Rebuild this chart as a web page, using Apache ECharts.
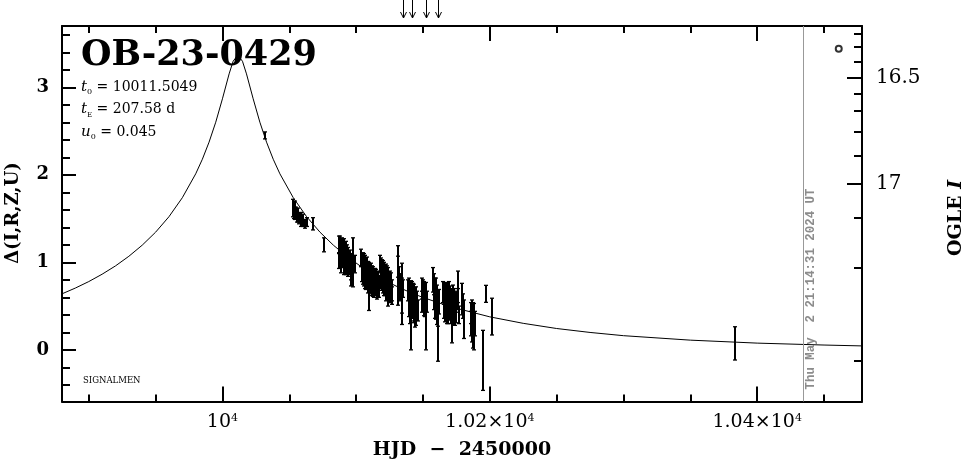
<!DOCTYPE html>
<html><head><meta charset="utf-8">
<script src="https://cdn.jsdelivr.net/npm/echarts@6/dist/echarts.min.js"></script>
<style>html,body{margin:0;padding:0;background:#fff}#c{width:965px;height:459px}</style>
</head><body><div id="c"></div>
<script>
// ---- axis ticks / labels ----
const xMajorTicks = [10000, 10200, 10400];
const xMajorLabels = ['10{s|4}', '1.02×10{s|4}', '1.04×10{s|4}'];
const xMinorTicks = [9900, 9950, 10050, 10100, 10150, 10250, 10300, 10350, 10450];
const yMajorTicks = [0, 1, 2, 3];
const yMajorLabels = ['0', '1', '2', '3'];
const yMinorTicks = [-0.4, -0.2, 0.2, 0.4, 0.6, 0.8, 1.2, 1.4, 1.6, 1.8, 2.2, 2.4, 2.6, 2.8, 3.2, 3.4, 3.6];
// OGLE I magnitude ticks (right axis) and the Delta value at which each sits
const magTickMags  = [16.2, 16.3, 16.4, 16.5, 16.6, 16.7, 16.8, 16.9, 17.0, 17.1, 17.2, 17.3];
const magTickDelta = [3.616, 3.463, 3.291, 3.113, 2.930, 2.728, 2.492, 2.218, 1.898, 1.509, 0.938, -0.125];
const magMajor = [16.5, 17.0];
const magMajorLabels = ['16.5', '17'];

// ---- model curve ----
const curveT = [9880, 9890, 9900, 9910, 9920, 9930, 9940, 9950, 9960, 9970, 9980, 9985, 9990, 9995, 10000, 10005, 10008, 10011.5, 10015, 10018, 10023, 10028, 10033, 10038, 10043, 10053, 10063, 10073, 10083, 10093, 10103, 10113, 10123, 10133, 10143, 10150, 10170, 10200, 10225, 10250, 10275, 10300, 10350, 10400, 10450, 10478.4];
const curveD = [0.640, 0.706, 0.780, 0.864, 0.959, 1.069, 1.196, 1.344, 1.521, 1.738, 2.011, 2.178, 2.373, 2.601, 2.868, 3.153, 3.297, 3.368, 3.297, 3.153, 2.868, 2.601, 2.373, 2.178, 2.011, 1.738, 1.521, 1.344, 1.196, 1.069, 0.959, 0.864, 0.780, 0.706, 0.640, 0.599, 0.495, 0.377, 0.303, 0.244, 0.199, 0.162, 0.111, 0.077, 0.055, 0.045];

// ---- observations (HJD-2450000, Delta, error) ----
const obsT = [
  10032.2, 10195.0, 10196.8, 10201.3, 10383.3,
  10053.1, 10053.6, 10054.1, 10054.6, 10055.4, 10055.9, 10056.9, 10057.4, 10058.4, 10058.9, 10059.9, 10062.1, 10063.6, 10068.1, 10076.3,
  10087.0, 10087.4, 10087.8, 10088.2, 10088.6, 10089.0, 10089.4, 10089.8, 10090.2, 10090.6, 10091.0, 10091.4, 10091.8, 10092.2, 10092.6, 10093.0, 10093.4, 10093.8, 10094.2, 10094.6, 10095.2, 10095.8, 10096.5, 10097.2, 10098.0, 10099.0,
  10104.0, 10104.4, 10104.8, 10105.2, 10105.6, 10106.0, 10106.4, 10106.8, 10107.2, 10107.6, 10108.0, 10108.4, 10108.8, 10109.2, 10109.6, 10110.0, 10110.4, 10110.8, 10111.2, 10111.6, 10112.0, 10112.5, 10113.0, 10113.5, 10114.0, 10114.5, 10115.0, 10115.5, 10116.0, 10116.5, 10117.0,
  10118.0, 10118.4, 10118.8, 10119.2, 10119.6, 10120.0, 10120.4, 10120.8, 10121.2, 10121.6, 10122.0, 10122.5, 10123.0, 10123.5, 10124.0, 10124.5, 10125.0, 10125.5, 10126.0, 10126.5, 10127.0,
  10131.0, 10131.5, 10132.0, 10132.5, 10133.0, 10134.0, 10134.5, 10135.0,
  10139.0, 10139.4, 10139.8, 10140.2, 10140.7, 10141.0, 10141.4, 10141.8, 10142.2, 10142.6, 10143.0, 10143.5, 10144.0, 10144.5, 10145.0, 10145.5, 10146.0,
  10149.0, 10149.5, 10150.0, 10150.5, 10151.0, 10151.5, 10152.0, 10152.5, 10153.0,
  10157.5, 10158.0, 10158.4, 10158.8, 10159.2, 10159.6, 10160.0, 10160.4, 10160.8, 10161.2, 10161.5, 10162.0,
  10165.0, 10165.4, 10165.8, 10166.2, 10166.6, 10167.0, 10167.5, 10168.0, 10168.5, 10169.0, 10169.5, 10170.0, 10170.5, 10171.0, 10171.5, 10172.0, 10172.5, 10173.0, 10173.5, 10174.0, 10174.5, 10175.0, 10176.0, 10176.5, 10177.0,
  10179.0, 10179.8, 10181.0,
  10185.6, 10186.0, 10186.4, 10186.8, 10187.2, 10187.6, 10188.0, 10188.5, 10189.0
];
const obsD = [
  2.45, -0.12, 0.64, 0.38, 0.074,
  1.62, 1.58, 1.64, 1.56, 1.58, 1.52, 1.54, 1.50, 1.52, 1.47, 1.48, 1.44, 1.46, 1.44, 1.20,
  1.20, 1.02, 1.22, 1.05, 1.18, 0.98, 1.20, 1.04, 1.15, 0.96, 1.18, 1.00, 1.12, 0.95, 1.14, 1.00, 1.10, 0.92, 1.08, 0.96, 1.05, 0.90, 0.88, 1.00, 1.00, 0.98,
  1.05, 0.88, 1.02, 0.85, 1.00, 0.82, 0.98, 0.80, 0.95, 0.78, 0.96, 0.80, 0.92, 0.75, 0.90, 0.66, 0.88, 0.74, 0.90, 0.72, 0.86, 0.70, 0.85, 0.70, 0.84, 0.72, 0.82, 0.68, 0.80, 0.70, 0.72,
  0.98, 0.80, 0.95, 0.78, 0.93, 0.75, 0.92, 0.74, 0.90, 0.72, 0.88, 0.68, 0.86, 0.62, 0.84, 0.70, 0.80, 0.66, 0.78, 0.62, 0.68,
  0.85, 0.95, 0.80, 0.70, 0.75, 0.62, 0.64, 0.70,
  0.68, 0.52, 0.70, 0.50, 0.24, 0.65, 0.48, 0.66, 0.50, 0.62, 0.45, 0.60, 0.44, 0.58, 0.42, 0.55, 0.45,
  0.70, 0.55, 0.68, 0.52, 0.66, 0.50, 0.62, 0.30, 0.55,
  0.80, 0.62, 0.75, 0.52, 0.70, 0.50, 0.68, 0.45, 0.62, 0.42, 0.25, 0.55,
  0.66, 0.48, 0.64, 0.46, 0.62, 0.45, 0.65, 0.44, 0.62, 0.42, 0.64, 0.46, 0.60, 0.44, 0.58, 0.30, 0.60, 0.42, 0.56, 0.40, 0.55, 0.45, 0.58, 0.72, 0.40,
  0.58, 0.50, 0.35,
  0.42, 0.30, 0.45, 0.25, 0.40, 0.20, 0.38, 0.15, 0.30
];
const obsErr = [
  0.04, 0.343, 0.097, 0.21, 0.19,
  0.10, 0.08, 0.06, 0.07, 0.05, 0.06, 0.08, 0.06, 0.05, 0.06, 0.07, 0.05, 0.05, 0.07, 0.08,
  0.10, 0.09, 0.08, 0.10, 0.09, 0.10, 0.08, 0.10, 0.09, 0.10, 0.09, 0.10, 0.08, 0.09, 0.10, 0.09, 0.10, 0.08, 0.09, 0.10, 0.09, 0.10, 0.15, 0.10, 0.28, 0.10,
  0.10, 0.10, 0.09, 0.10, 0.10, 0.09, 0.10, 0.10, 0.10, 0.09, 0.10, 0.10, 0.09, 0.10, 0.10, 0.21, 0.10, 0.10, 0.09, 0.10, 0.10, 0.09, 0.10, 0.10, 0.09, 0.10, 0.10, 0.10, 0.10, 0.08, 0.12,
  0.10, 0.10, 0.10, 0.10, 0.10, 0.10, 0.10, 0.12, 0.10, 0.10, 0.10, 0.12, 0.10, 0.12, 0.10, 0.10, 0.10, 0.12, 0.10, 0.10, 0.12,
  0.34, 0.12, 0.15, 0.14, 0.12, 0.20, 0.35, 0.10,
  0.12, 0.14, 0.12, 0.20, 0.24, 0.14, 0.15, 0.12, 0.14, 0.14, 0.14, 0.15, 0.18, 0.14, 0.14, 0.12, 0.12,
  0.12, 0.12, 0.12, 0.13, 0.12, 0.12, 0.15, 0.30, 0.12,
  0.14, 0.16, 0.12, 0.16, 0.12, 0.15, 0.14, 0.16, 0.12, 0.15, 0.38, 0.14,
  0.12, 0.12, 0.12, 0.14, 0.13, 0.12, 0.12, 0.14, 0.14, 0.12, 0.14, 0.12, 0.13, 0.14, 0.12, 0.22, 0.14, 0.13, 0.14, 0.12, 0.12, 0.14, 0.12, 0.18, 0.10,
  0.18, 0.14, 0.22,
  0.12, 0.14, 0.12, 0.16, 0.14, 0.18, 0.15, 0.15, 0.14
];

const arrowT = [10134.9, 10141.9, 10151.9, 10160.9];
const dateLineT = [10434.5];
const markerT = [10461];
const markerD = [3.44];

const X_MIN = 9880, X_MAX = 10478.4, Y_MIN = -0.59, Y_MAX = 3.70;
const SERIF = '"DejaVu Serif", serif';

function near(a, b) { return Math.abs(a - b) < 1e-6; }
function xLabel(v) { const i = xMajorTicks.findIndex(t => near(t, v)); return i >= 0 ? xMajorLabels[i] : ''; }
function yLabel(v) { const i = yMajorTicks.findIndex(t => near(t, v)); return i >= 0 ? yMajorLabels[i] : ''; }
function deltaOfMag(m) { const i = magTickMags.findIndex(t => near(t, m)); return magTickDelta[i]; }
const magMajorDelta = magMajor.map(deltaOfMag);
const magMinorDelta = magTickMags.filter(m => !magMajor.some(M => near(M, m))).map(deltaOfMag);
function magLabel(v) { const i = magMajorDelta.findIndex(t => near(t, v)); return i >= 0 ? magMajorLabels[i] : ''; }

const axisLineStyle = { color: '#000', width: 2 };
function xAx(pos, ticks, len, withLine, withLabel) {
  return {
    type: 'value', position: pos, min: X_MIN, max: X_MAX, gridIndex: 0,
    axisLine: { show: withLine, onZero: false, lineStyle: axisLineStyle },
    axisTick: { show: true, inside: true, length: len, customValues: ticks, lineStyle: { color: '#000', width: 2 } },
    axisLabel: withLabel ? {
      show: true, customValues: ticks, formatter: xLabel, margin: 11,
      color: '#000', fontFamily: SERIF, fontSize: 19,
      rich: { s: { fontFamily: SERIF, fontSize: 11, verticalAlign: 'top', color: '#000' } }
    } : { show: false },
    splitLine: { show: false }
  };
}
function yAx(pos, ticks, len, withLine, label) {
  return {
    type: 'value', position: pos, min: Y_MIN, max: Y_MAX, gridIndex: 0,
    axisLine: { show: withLine, onZero: false, lineStyle: axisLineStyle },
    axisTick: { show: true, inside: true, length: len, customValues: ticks, lineStyle: { color: '#000', width: 2 } },
    axisLabel: label ? Object.assign({ show: true, customValues: ticks, color: '#000', fontFamily: SERIF }, label) : { show: false },
    splitLine: { show: false }
  };
}

const chart = echarts.init(document.getElementById('c'), null, { renderer: 'canvas' });
chart.setOption({
  animation: false,
  backgroundColor: '#fff',
  grid: { left: 62, right: 103, top: 26, bottom: 57.5, containLabel: false },
  xAxis: [
    xAx('bottom', xMajorTicks, 15, true, true),
    xAx('bottom', xMinorTicks, 7, false, false),
    xAx('top', xMajorTicks, 15, true, false),
    xAx('top', xMinorTicks, 7, false, false)
  ],
  yAxis: [
    yAx('left', yMajorTicks, 14, true, { formatter: yLabel, margin: 13, fontSize: 18, fontWeight: 'bold' }),
    yAx('left', yMinorTicks, 8, false, null),
    yAx('right', magMajorDelta, 15, true, { formatter: magLabel, margin: 14, fontSize: 20 }),
    yAx('right', magMinorDelta, 8, false, null)
  ],
  series: [
    {
      type: 'line', xAxisIndex: 0, yAxisIndex: 0,
      data: curveT.map((t, i) => [t, curveD[i]]),
      showSymbol: false, symbol: 'none', smooth: false,
      lineStyle: { color: '#000', width: 1 }, silent: true,
      markLine: {
        silent: true, symbol: ['none', 'none'],
        lineStyle: { color: '#999', width: 1, type: 'solid' },
        label: { show: false },
        data: dateLineT.map(t => ({ xAxis: t }))
      }
    },
    {
      type: 'custom', xAxisIndex: 0, yAxisIndex: 0, silent: true,
      data: obsT.map((t, i) => [t, obsD[i], obsErr[i]]),
      encode: { x: 0, y: 1 },
      renderItem: function (params, api) {
        const t = api.value(0), d = api.value(1), e = api.value(2);
        const top = api.coord([t, d + e]), bot = api.coord([t, d - e]);
        const x = Math.round(top[0]);
        const st = { stroke: '#000', lineWidth: 2 };
        return { type: 'group', children: [
          { type: 'line', shape: { x1: x, y1: top[1], x2: x, y2: bot[1] }, style: st },
          { type: 'line', shape: { x1: x - 2, y1: top[1], x2: x + 2, y2: top[1] }, style: { stroke: '#000', lineWidth: 1.3 } },
          { type: 'line', shape: { x1: x - 2, y1: bot[1], x2: x + 2, y2: bot[1] }, style: { stroke: '#000', lineWidth: 1.3 } }
        ] };
      }
    },
    {
      type: 'custom', xAxisIndex: 0, yAxisIndex: 0, silent: true, clip: false,
      data: arrowT.map(t => [t, Y_MAX]),
      encode: { x: 0, y: 1 },
      renderItem: function (params, api) {
        const p = api.coord([api.value(0), api.value(1)]);
        const x = Math.round(p[0]) + 0.5, yb = p[1] - 8, yt = p[1] - 27;
        const st = { stroke: '#000', lineWidth: 1, fill: null };
        return { type: 'group', children: [
          { type: 'line', shape: { x1: x, y1: yt, x2: x, y2: yb }, style: st },
          { type: 'polyline', shape: { points: [[x - 3, yb - 6], [x, yb], [x + 3, yb - 6]] }, style: st }
        ] };
      }
    },
    {
      type: 'scatter', xAxisIndex: 0, yAxisIndex: 0, silent: true,
      data: markerT.map((t, i) => [t, markerD[i]]),
      symbol: 'circle', symbolSize: 6,
      itemStyle: { color: '#fff', borderColor: '#000', borderWidth: 2 }
    }
  ],
  graphic: [
    { type: 'text', x: 81, y: 56, style: { text: 'OB-23-0429', font: 'bold 35px ' + SERIF, fill: '#000', verticalAlign: 'middle', align: 'left' } },
    { type: 'text', x: 81, y: 87, style: { text: '{i|t}{s|0} = 10011.5049', font: '14px ' + SERIF, fill: '#000', verticalAlign: 'middle', align: 'left', lineHeight: 18,
      rich: { i: { fontStyle: 'italic', fontFamily: SERIF, fontSize: 15 }, s: { fontFamily: SERIF, fontSize: 8, verticalAlign: 'bottom', lineHeight: 9 } } } },
    { type: 'text', x: 81, y: 109.5, style: { text: '{i|t}{s|E} = 207.58 d', font: '14px ' + SERIF, fill: '#000', verticalAlign: 'middle', align: 'left', lineHeight: 18,
      rich: { i: { fontStyle: 'italic', fontFamily: SERIF, fontSize: 15 }, s: { fontFamily: SERIF, fontSize: 7, verticalAlign: 'bottom', lineHeight: 9 } } } },
    { type: 'text', x: 81, y: 132, style: { text: '{i|u}{s|0} = 0.045', font: '14px ' + SERIF, fill: '#000', verticalAlign: 'middle', align: 'left', lineHeight: 18,
      rich: { i: { fontStyle: 'italic', fontFamily: SERIF, fontSize: 15 }, s: { fontFamily: SERIF, fontSize: 8, verticalAlign: 'bottom', lineHeight: 9 } } } },
    { type: 'text', x: 83, y: 381, style: { text: 'SIGNALMEN', font: '8.5px ' + SERIF, fill: '#000', verticalAlign: 'middle', align: 'left' } },
    { type: 'text', x: 462, y: 450, style: { text: 'HJD  −  2450000', font: 'bold 19px ' + SERIF, fill: '#000', verticalAlign: 'middle', align: 'center' } },
    { type: 'text', x: 13.5, y: 213, rotation: Math.PI / 2, style: { text: 'Δ(I,R,Z,U)', font: 'bold 18px ' + SERIF, fill: '#000', verticalAlign: 'middle', align: 'center' } },
    { type: 'text', x: 956, y: 218, rotation: Math.PI / 2, style: { text: 'OGLE {i|I}', font: 'bold 19px ' + SERIF, fill: '#000', verticalAlign: 'middle', align: 'center',
      rich: { i: { fontStyle: 'italic', fontWeight: 'bold', fontFamily: SERIF, fontSize: 19 } } } },
    { type: 'text', x: 811, y: 289, rotation: Math.PI / 2, style: { text: 'Thu May  2 21:14:31 2024 UT', font: 'bold 12.4px "Liberation Mono", monospace', fill: '#8c8c8c', verticalAlign: 'middle', align: 'center' } }
  ]
});
</script>
</body></html>
